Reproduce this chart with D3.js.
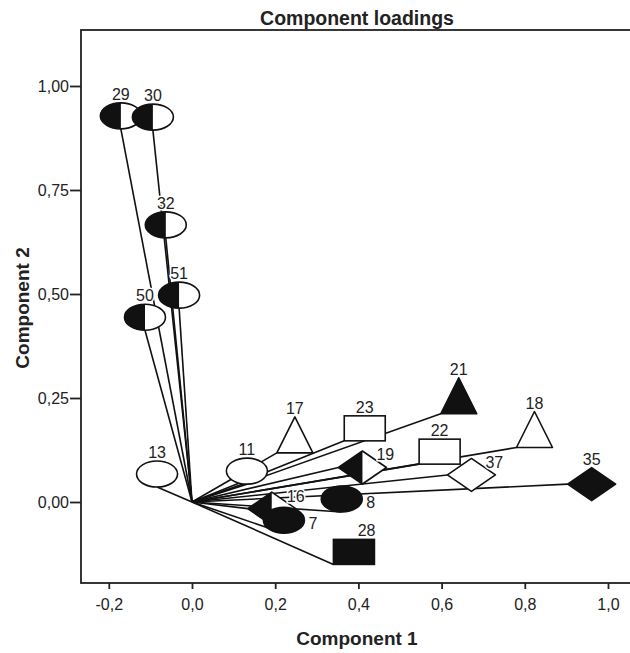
<!DOCTYPE html>
<html>
<head>
<meta charset="utf-8">
<script src="https://cdn.jsdelivr.net/npm/d3@7"></script>
<style>
  body { margin: 0; background: #fff; }
  svg { display: block; font-family: "Liberation Sans", Arial, Helvetica, sans-serif; }
</style>
</head>
<body>
<div id="chart"></div>
<script>
// variable numbers and their loadings on the two components
const ids    = ["29", "30", "32", "51", "50", "13", "11", "17", "23", "21", "18", "22", "19", "37", "35", "16", "7", "8", "28"];
const comp1  = [-0.171, -0.094, -0.063, -0.031, -0.113, -0.084, 0.132, 0.204, 0.366, 0.598, 0.780, 0.546, 0.352, 0.614, 0.903, 0.134, 0.221, 0.360, 0.340];
const comp2  = [0.897, 0.894, 0.635, 0.466, 0.413, 0.036, 0.043, 0.118, 0.147, 0.212, 0.131, 0.091, 0.083, 0.065, 0.043, -0.016, -0.075, -0.024, -0.150];
const shapes = ["ellipse", "ellipse", "ellipse", "ellipse", "ellipse", "ellipse", "ellipse", "triangle", "rect", "triangle", "triangle", "rect", "diamond", "diamond", "diamond", "diamond", "ellipse", "ellipse", "rect"];
const fills  = ["half", "half", "half", "half", "half", "open", "open", "open", "open", "solid", "open", "open", "half", "open", "solid", "half", "solid", "solid", "solid"];
const labelSide = ["top", "top", "top", "top", "top", "top", "top", "top", "top", "top", "top", "top", "tr", "tr", "top", "right", "right", "right", "topend"];

const xTicks = [-0.2, 0, 0.2, 0.4, 0.6, 0.8, 1.0];
const yTicks = [0, 0.25, 0.5, 0.75, 1.0];

const width = 630, height = 653,
  margin = ({top: 30, right: 0, bottom: 70, left: 81});

// marker sizes in px
const size = {
  ellipse: {w: 41, h: 26},
  triangle: {w: 36, h: 36},
  rect: {w: 41, h: 25},
  diamond: {w: 48, h: 33}
};

// comma decimals, plain hyphen for minus
const locale = d3.formatLocale({decimal: ",", thousands: ".", grouping: [3], currency: ["", ""], minus: "-"});

const data = ids.map((id, i) => ({id: id, c1: comp1[i], c2: comp2[i], shape: shapes[i], fill: fills[i], side: labelSide[i]}));

let svg = d3.select("#chart").append("svg")
  .attr("width", width).attr("height", height);

// same px per unit on both axes
let x = d3.scaleLinear()
  .domain([-0.2668, 1.0529])
  .range([margin.left, width - margin.right]);

let y = d3.scaleLinear()
  .domain([-0.1947, 1.1346])
  .range([height - margin.bottom, margin.top]);

// frame (right side runs off the page)
svg.append("rect")
  .attr("x", margin.left)
  .attr("y", margin.top)
  .attr("width", width - margin.left + 10)
  .attr("height", height - margin.bottom - margin.top)
  .attr("fill", "none")
  .attr("stroke", "#222")
  .attr("stroke-width", 1.8);

let xAxis = svg.append("g")
  .attr("transform", `translate(0,${height - margin.bottom})`)
  .call(d3.axisBottom(x).tickValues(xTicks).tickSize(6).tickPadding(10)
    .tickFormat(locale.format(".1f")));

let yAxis = svg.append("g")
  .attr("transform", `translate(${margin.left},0)`)
  .call(d3.axisLeft(y).tickValues(yTicks).tickSize(11).tickPadding(1)
    .tickFormat(locale.format(".2f")));

for (let ax of [xAxis, yAxis]) {
  ax.select(".domain").remove();
  ax.selectAll(".tick line").attr("stroke", "#222").attr("stroke-width", 1.8);
  ax.selectAll(".tick text").attr("font-size", 16).attr("fill", "#222")
    .attr("font-family", "Liberation Sans, Arial, sans-serif");
}

// titles
svg.append("text")
  .attr("x", 357).attr("y", 25)
  .attr("text-anchor", "middle")
  .attr("font-size", 19.5).attr("font-weight", "bold").attr("fill", "#222")
  .text("Component loadings");

svg.append("text")
  .attr("x", 357).attr("y", 645)
  .attr("text-anchor", "middle")
  .attr("font-size", 19).attr("font-weight", "bold").attr("fill", "#222")
  .text("Component 1");

svg.append("text")
  .attr("transform", `translate(29,308) rotate(-90)`)
  .attr("text-anchor", "middle")
  .attr("font-size", 19).attr("font-weight", "bold").attr("fill", "#222")
  .text("Component 2");

// lines from the origin to each loading
svg.append("g")
  .selectAll("line")
  .data(data)
  .join("line")
  .attr("x1", x(0)).attr("y1", y(0))
  .attr("x2", d => x(d.c1)).attr("y2", d => y(d.c2))
  .attr("stroke", "#111")
  .attr("stroke-width", 1.6);

// markers
let marks = svg.append("g")
  .selectAll("g")
  .data(data)
  .join("g")
  .attr("transform", d => `translate(${x(d.c1)},${y(d.c2)})`);

marks.each(function(d) {
  let g = d3.select(this);
  let s = size[d.shape], w = s.w, h = s.h;
  let base = d.fill === "solid" ? "#111" : "#fff";
  if (d.shape === "ellipse") {
    g.append("ellipse").attr("cx", 0).attr("cy", -h / 2).attr("rx", w / 2).attr("ry", h / 2)
      .attr("fill", base);
    if (d.fill === "half")
      g.append("path").attr("d", `M0,0 A${w / 2},${h / 2} 0 0 1 0,${-h} Z`).attr("fill", "#111");
    g.append("ellipse").attr("cx", 0).attr("cy", -h / 2).attr("rx", w / 2).attr("ry", h / 2)
      .attr("fill", "none").attr("stroke", "#111").attr("stroke-width", 1.6);
  } else if (d.shape === "triangle") {
    g.append("path").attr("d", `M0,0 L${w},0 L${w / 2},${-h} Z`)
      .attr("fill", base).attr("stroke", "#111").attr("stroke-width", 1.6).attr("stroke-linejoin", "round");
  } else if (d.shape === "rect") {
    g.append("rect").attr("x", 0).attr("y", -h).attr("width", w).attr("height", h)
      .attr("fill", base).attr("stroke", "#111").attr("stroke-width", 1.6);
  } else {
    g.append("path").attr("d", `M0,0 L${w / 2},${-h / 2} L${w},0 L${w / 2},${h / 2} Z`)
      .attr("fill", base);
    if (d.fill === "half")
      g.append("path").attr("d", `M0,0 L${w / 2},${-h / 2} L${w / 2},${h / 2} Z`).attr("fill", "#111");
    g.append("path").attr("d", `M0,0 L${w / 2},${-h / 2} L${w},0 L${w / 2},${h / 2} Z`)
      .attr("fill", "none").attr("stroke", "#111").attr("stroke-width", 1.6).attr("stroke-linejoin", "round");
  }
});

// labels
marks.append("text")
  .attr("font-size", 16)
  .attr("fill", "#222")
  .attr("stroke", "#fff").attr("stroke-width", 3).attr("paint-order", "stroke")
  .attr("text-anchor", d => d.side === "top" ? "middle" : d.side === "topend" ? "end" : "start")
  .attr("x", d => {
    let s = size[d.shape];
    let cx = d.shape === "ellipse" ? 0 : s.w / 2;
    if (d.side === "top") return cx;
    if (d.side === "tr") return s.w - 10;
    if (d.side === "topend") return s.w + 1;
    return d.shape === "ellipse" ? s.w / 2 + 4 : cx + 15;
  })
  .attr("y", d => {
    let s = size[d.shape];
    let top = d.shape === "diamond" ? -s.h / 2 : -s.h;
    if (d.side === "top" || d.side === "topend") return top - 3;
    if (d.side === "tr") return -7;
    return d.shape === "ellipse" ? -s.h / 2 + 9 : -s.h / 2 + 10;
  })
  .text(d => d.id);
</script>
</body>
</html>
